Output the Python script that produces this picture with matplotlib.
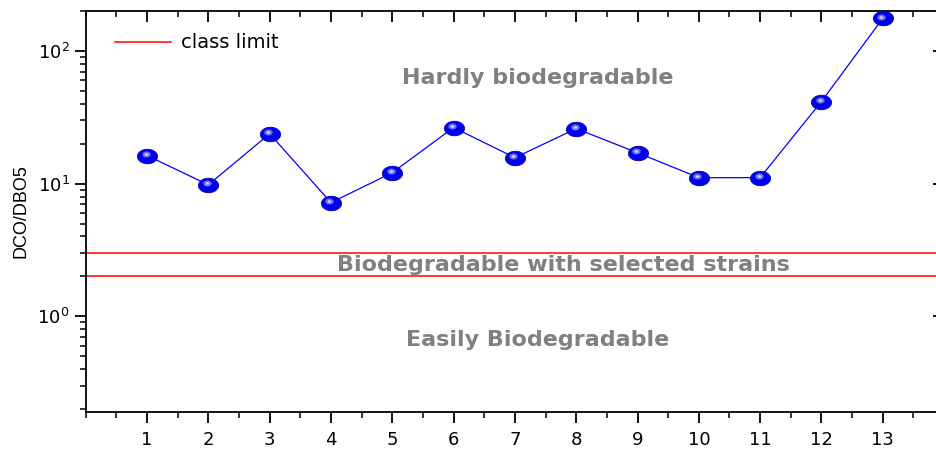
import numpy as np
import matplotlib
matplotlib.use("Agg")
import matplotlib.pyplot as plt
import matplotlib.transforms as mtransforms
from matplotlib.path import Path
from matplotlib.ticker import LogLocator, MultipleLocator, NullFormatter

plt.rcParams["font.family"] = ["DejaVu Sans"]

# --- data ---
samples = [1, 2, 3, 4, 5, 6, 7, 8, 9, 10, 11, 12, 13]
ratio = [16.3, 9.8, 23.8, 7.2, 12.1, 26.5, 15.7, 26.0, 17.1, 11.1, 11.1, 41.6, 176.0]
class_limits = [2.0, 3.0]
zone_labels = ["Hardly biodegradable", "Biodegradable with selected strains", "Easily Biodegradable"]
zone_x = [7.37, 7.79, 7.37]
zone_y = [62.5, 2.43, 0.66]

fig = plt.figure(figsize=(9.36, 4.5), dpi=100)
ax = fig.add_axes([0.0916, 0.0844, 0.917, 0.891])

ax.set_yscale("log")
ax.set_xlim(0, 14)
ax.set_ylim(0.19, 200)

# class limits
for i, c in enumerate(class_limits):
    ax.axhline(c, color="red", lw=1.1, label="class limit" if i == 0 else None)

# flattened "sphere" marker
t = np.linspace(0, 2 * np.pi, 60)
ellipse = Path(np.column_stack([np.cos(t), 0.72 * np.sin(t)]), closed=True)

ax.plot(samples, ratio, color="#0000ff", lw=0.9, zorder=3)
ax.plot(samples, ratio, ls="none", marker=ellipse, ms=14.5, mfc="#0000f0",
        mec="#0000b0", mew=0.6, zorder=4)
hl = mtransforms.offset_copy(ax.transData, fig=fig, x=-1.5, y=1.5, units="dots")
ax.plot(samples, ratio, ls="none", marker=ellipse, ms=6, mfc="#7070ff",
        mec="none", transform=hl, zorder=5)
ax.plot(samples, ratio, ls="none", marker=ellipse, ms=2.5, mfc="#d8d8ff",
        mec="none", transform=hl, zorder=6)

for lab, x, y in zip(zone_labels, zone_x, zone_y):
    ax.text(x, y, lab, ha="center", va="center", fontsize=16,
            fontweight="bold", color="#808080")

ax.set_ylabel("DCO/DBO5", fontsize=13, family=["Liberation Sans", "DejaVu Sans"])
ax.yaxis.set_label_coords(-0.066, 0.5)

ax.xaxis.set_major_locator(MultipleLocator(1))
ax.xaxis.set_minor_locator(MultipleLocator(0.5))
ax.set_xticks(samples)
ax.yaxis.set_major_locator(LogLocator(base=10, numticks=10))
ax.yaxis.set_minor_locator(LogLocator(base=10, subs=range(2, 10), numticks=20))
ax.yaxis.set_minor_formatter(NullFormatter())

ax.tick_params(axis="both", which="major", labelsize=13, length=8, width=1.3)
ax.tick_params(axis="both", which="minor", length=4, width=1.1)
ax.tick_params(axis="x", which="both", direction="out", top=True)
ax.tick_params(axis="y", which="both", direction="out", right=True)
ax.tick_params(axis="x", which="major", pad=6)
# mirrored ticks point inward
for tk in ax.xaxis.get_major_ticks() + ax.xaxis.get_minor_ticks():
    tk.tick2line.set_marker(3)
for tk in ax.yaxis.get_major_ticks() + ax.yaxis.get_minor_ticks():
    tk.tick2line.set_marker(0)

for s in ax.spines.values():
    s.set_linewidth(1.3)

ax.legend(loc="upper left", frameon=False, fontsize=14, handlelength=2.9,
          handletextpad=0.5, borderaxespad=0.75, bbox_to_anchor=(0.008, 1.0))

fig.savefig("out.png", dpi=100)
